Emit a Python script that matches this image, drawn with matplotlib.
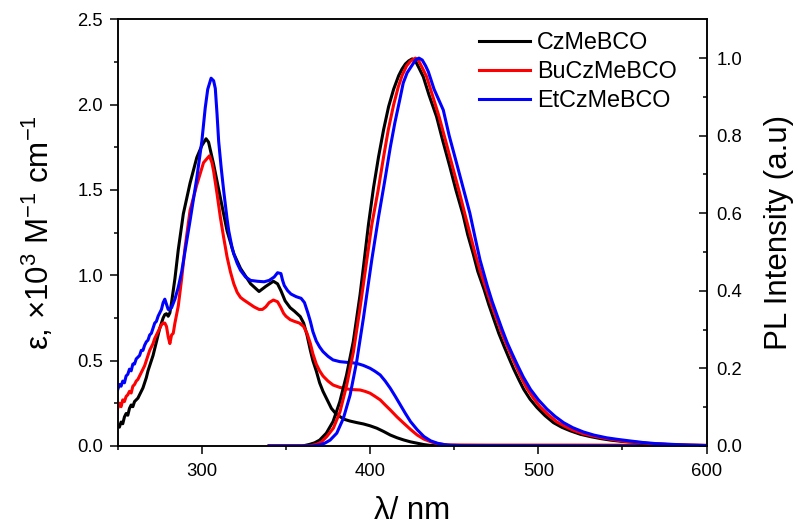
import matplotlib.pyplot as plt
from matplotlib.lines import Line2D

plt.rcParams['font.family'] = ['Liberation Sans', 'DejaVu Sans']
plt.rcParams['mathtext.fontset'] = 'custom'
plt.rcParams['mathtext.rm'] = 'Liberation Sans'
plt.rcParams['mathtext.it'] = 'Liberation Sans:italic'
plt.rcParams['xtick.major.pad'] = 7
plt.rcParams['ytick.major.pad'] = 5

names = ['CzMeBCO', 'BuCzMeBCO', 'EtCzMeBCO']
colors = ['black', 'red', 'blue']

x_ticks = [300, 400, 500, 600]
x_labels = ['300', '400', '500', '600']
abs_ticks = [0, 0.5, 1.0, 1.5, 2.0, 2.5]
abs_labels = ['0.0', '0.5', '1.0', '1.5', '2.0', '2.5']
pl_ticks = [0, 0.2, 0.4, 0.6, 0.8, 1.0]
pl_labels = ['0.0', '0.2', '0.4', '0.6', '0.8', '1.0']

# absorption (left axis, x10^3 M^-1 cm^-1)
abs_wl_cz = [250, 251, 252, 253, 254, 255, 256, 257, 258, 259, 260, 261, 262, 263, 264,
             265, 266, 267, 268, 269, 270, 271, 272, 273, 274, 275, 276, 277, 278, 279,
             280, 281, 282, 284, 286, 289, 293, 297, 300, 302.5, 304, 307, 311, 315, 319,
             323, 329, 334, 338, 342.5, 345, 347, 349.5, 352.5, 355, 358.5, 360.5, 362.5,
             364.5, 366, 368, 370, 372, 375, 377, 380, 382, 385, 388, 392, 396, 400, 404,
             408, 412, 416, 420, 424, 428, 432, 436, 445, 600]
abs_cz = [0.12, 0.11, 0.14, 0.13, 0.17, 0.19, 0.18, 0.22, 0.24, 0.23, 0.26, 0.27, 0.28,
          0.30, 0.32, 0.34, 0.37, 0.40, 0.44, 0.47, 0.50, 0.53, 0.57, 0.61, 0.65, 0.69,
          0.72, 0.75, 0.77, 0.775, 0.76, 0.78, 0.84, 0.98, 1.15, 1.36, 1.54, 1.69, 1.76,
          1.80, 1.78, 1.65, 1.455, 1.26, 1.126, 1.04, 0.95, 0.905, 0.935, 0.965, 0.95,
          0.91, 0.85, 0.81, 0.79, 0.758, 0.72, 0.65, 0.56, 0.50, 0.44, 0.37, 0.32, 0.26,
          0.22, 0.185, 0.172, 0.155, 0.146, 0.137, 0.129, 0.118, 0.104, 0.085, 0.064,
          0.048, 0.035, 0.024, 0.016, 0.008, 0.003, 0.0, 0.0]

abs_wl_bu = [250, 251, 252, 253, 254, 255, 256, 257, 258, 259, 260, 261, 262, 263, 264,
             265, 266, 267, 268, 269, 270, 271, 272, 273, 274, 275, 276, 277, 278, 279,
             280, 281, 282, 283, 284, 286, 288, 290, 293, 297, 301, 304.5, 306, 307, 309,
             311, 313, 315, 317, 319, 321, 323, 325, 328, 331, 334, 336, 338, 340, 342.5,
             345, 347, 348.6, 350, 352.5, 355, 358, 360.5, 362.5, 364.5, 366, 368, 370,
             372, 375, 378, 382, 386, 390, 394, 397, 400, 403, 406, 409, 412, 416, 420,
             424, 428, 432, 437, 441, 446, 470, 520, 600]
abs_bu = [0.22, 0.25, 0.23, 0.27, 0.26, 0.29, 0.30, 0.32, 0.31, 0.35, 0.36, 0.38, 0.39,
          0.41, 0.43, 0.45, 0.47, 0.50, 0.53, 0.56, 0.58, 0.60, 0.63, 0.65, 0.67, 0.69,
          0.71, 0.72, 0.72, 0.70, 0.64, 0.60, 0.65, 0.66, 0.72, 0.82, 0.98, 1.16, 1.38,
          1.53, 1.66, 1.70, 1.66, 1.61, 1.48, 1.34, 1.22, 1.107, 1.02, 0.95, 0.90, 0.87,
          0.855, 0.835, 0.815, 0.80, 0.80, 0.815, 0.84, 0.855, 0.845, 0.81, 0.777, 0.76,
          0.74, 0.73, 0.72, 0.70, 0.66, 0.60, 0.54, 0.48, 0.44, 0.41, 0.38, 0.357, 0.343,
          0.334, 0.33, 0.328, 0.32, 0.309, 0.29, 0.27, 0.24, 0.211, 0.17, 0.133, 0.097,
          0.064, 0.04, 0.021, 0.012, 0.006, 0.005, 0.005, 0.004]

abs_wl_et = [250, 251, 252, 253, 254, 255, 256, 257, 258, 259, 260, 261, 262, 263, 264,
             265, 266, 267, 268, 269, 270, 271, 272, 273, 274, 275, 276, 277, 278, 279,
             280, 281, 282, 284, 286, 288, 290, 293, 297, 300, 302, 303.5, 305.5, 307, 308,
             309, 310, 311.5, 313, 315, 316, 318, 319, 321, 323, 326, 329, 333, 337, 340,
             343, 345, 347, 348, 349, 351, 353, 356, 359, 361, 363, 364.5, 366, 368, 370,
             372, 375, 378, 382, 386, 389, 392, 396, 400, 403, 406, 409, 412, 415, 418,
             421, 424, 428, 432, 436, 440, 444, 448, 455, 600]
abs_et = [0.33, 0.36, 0.35, 0.38, 0.37, 0.41, 0.42, 0.45, 0.44, 0.48, 0.48, 0.51, 0.52,
          0.53, 0.56, 0.56, 0.59, 0.61, 0.62, 0.65, 0.66, 0.69, 0.72, 0.73, 0.76, 0.78,
          0.80, 0.84, 0.86, 0.83, 0.80, 0.80, 0.81, 0.86, 0.93, 1.02, 1.14, 1.32, 1.57,
          1.785, 1.98, 2.09, 2.155, 2.14, 2.095, 1.95, 1.785, 1.63, 1.494, 1.33, 1.26,
          1.16, 1.126, 1.07, 1.029, 0.99, 0.97, 0.965, 0.962, 0.97, 0.99, 1.015, 1.01,
          0.97, 0.94, 0.91, 0.89, 0.875, 0.865, 0.84, 0.78, 0.73, 0.67, 0.615, 0.58,
          0.553, 0.525, 0.504, 0.494, 0.49, 0.488, 0.484, 0.472, 0.455, 0.437, 0.416,
          0.38, 0.338, 0.29, 0.24, 0.19, 0.143, 0.095, 0.055, 0.03, 0.016, 0.008, 0.004,
          0.002, 0.0]

# photoluminescence (right axis, normalised)
pl_wl_cz = [340, 360, 364, 367, 370, 374, 378, 382, 386, 390, 394, 396, 399, 402, 405,
            408, 411, 414, 417, 419, 421, 423, 425, 427, 429, 431.6, 435, 439.5, 443,
            447.4, 451, 455.3, 458, 461.3, 464, 467.7, 470.5, 473.6, 476.5, 479.5, 482.5,
            485.4, 488.5, 491.3, 495, 499.2, 504, 509, 514, 519, 525, 531, 537, 543, 549,
            555, 565, 575, 585, 600]
pl_cz = [0.0, 0.0, 0.004, 0.008, 0.015, 0.033, 0.063, 0.114, 0.183, 0.269, 0.389, 0.46,
         0.57, 0.665, 0.745, 0.815, 0.875, 0.92, 0.955, 0.972, 0.985, 0.993, 0.998,
         0.992, 0.975, 0.952, 0.905, 0.849, 0.79, 0.72, 0.66, 0.595, 0.545, 0.495, 0.45,
         0.404, 0.365, 0.326, 0.29, 0.258, 0.227, 0.198, 0.17, 0.146, 0.121, 0.099,
         0.078, 0.06, 0.048, 0.039, 0.03, 0.024, 0.019, 0.015, 0.012, 0.01, 0.006, 0.004,
         0.002, 0.001]

pl_wl_bu = [340, 364, 368, 371, 374.2, 378.2, 382.1, 386.1, 390.1, 394, 398.4, 401,
            404.8, 408, 410.8, 414, 416.7, 419, 421.7, 424, 427, 429, 431, 433.6, 437,
            441, 445, 449, 453, 456.5, 459.5, 462.5, 465.5, 469, 472, 475, 478, 481, 484,
            487, 490, 493, 497, 501, 506, 511, 516, 521, 527, 533, 539, 545, 551, 557,
            567, 577, 587, 600]
pl_bu = [0.0, 0.0, 0.004, 0.01, 0.024, 0.046, 0.088, 0.157, 0.243, 0.355, 0.49, 0.57,
         0.66, 0.745, 0.815, 0.88, 0.925, 0.955, 0.98, 0.992, 1.0, 0.992, 0.975, 0.952,
         0.905, 0.849, 0.785, 0.72, 0.655, 0.595, 0.545, 0.495, 0.45, 0.404, 0.365,
         0.33, 0.294, 0.262, 0.232, 0.203, 0.175, 0.15, 0.124, 0.101, 0.08, 0.062, 0.05,
         0.04, 0.031, 0.025, 0.02, 0.016, 0.012, 0.01, 0.006, 0.004, 0.002, 0.001]

pl_wl_et = [340, 366, 370.2, 373, 376.2, 380.2, 384.1, 388.1, 392, 396, 401, 405, 408.8,
            412, 414.7, 417.5, 419.7, 422, 424.7, 427, 429, 431, 433, 434.6, 438, 443.5,
            447, 451.4, 455.5, 459.3, 462.5, 465.3, 469.7, 472.5, 475.6, 478.5, 481.5,
            484.5, 487.4, 491, 495.3, 500, 505.1, 510, 515, 520.5, 526.8, 533, 540.6, 547,
            554.3, 562, 570, 580, 590, 600]
pl_et = [0.0, 0.0, 0.003, 0.007, 0.015, 0.033, 0.071, 0.131, 0.217, 0.329, 0.48, 0.59,
         0.686, 0.77, 0.833, 0.89, 0.936, 0.962, 0.98, 0.995, 1.0, 0.995, 0.98, 0.965,
         0.92, 0.866, 0.8, 0.729, 0.662, 0.6, 0.535, 0.48, 0.412, 0.373, 0.335, 0.3,
         0.266, 0.237, 0.21, 0.178, 0.146, 0.119, 0.095, 0.076, 0.06, 0.047, 0.036,
         0.028, 0.021, 0.017, 0.013, 0.009, 0.006, 0.004, 0.002, 0.001]

fig = plt.figure(figsize=(7.98, 5.29), dpi=100)
ax = fig.add_axes([0.1475, 0.157, 0.738, 0.8065])
ax2 = ax.twinx()

lw = 2.2
for wl, val, c in zip([abs_wl_cz, abs_wl_bu, abs_wl_et], [abs_cz, abs_bu, abs_et], colors):
    ax.plot(wl, val, color=c, lw=lw)
for wl, val, c in zip([pl_wl_cz, pl_wl_bu, pl_wl_et], [pl_cz, pl_bu, pl_et], colors):
    ax2.plot(wl, val, color=c, lw=lw)

ax.set_xlim(250, 600)
ax.set_ylim(0, 2.5)
ax2.set_ylim(0, 1.1)

ax.set_xticks(x_ticks)
ax.set_xticklabels(x_labels, fontsize=13.3)
ax.set_xticks([250, 350, 450, 550], minor=True)
ax.set_yticks(abs_ticks)
ax.set_yticklabels(abs_labels, fontsize=13.3)
ax.set_yticks([0.25, 0.75, 1.25, 1.75, 2.25], minor=True)
ax2.set_yticks(pl_ticks)
ax2.set_yticklabels(pl_labels, fontsize=13.3)
ax2.set_yticks([0.1, 0.3, 0.5, 0.7, 0.9], minor=True)

ax.tick_params(axis='both', which='major', direction='out', length=5.5, width=1.1)
ax.tick_params(axis='both', which='minor', direction='out', length=3, width=1.1)
ax2.tick_params(axis='y', which='major', direction='in', length=5.5, width=1.1, pad=7)
ax2.tick_params(axis='y', which='minor', direction='in', length=3, width=1.1)

for a in (ax, ax2):
    for s in a.spines.values():
        s.set_linewidth(1.1)

ax.set_xlabel('λ/ nm', fontsize=22.5, labelpad=11)
ax.set_ylabel(r'ε, ×10$^{3}$ M$^{-1}$ cm$^{-1}$', fontsize=22.5, labelpad=15)
ax2.set_ylabel('PL Intensity (a.u)', fontsize=22.5, labelpad=16)

handles = [Line2D([], [], color=c, lw=lw) for c in colors]
ax2.legend(handles, names, loc='upper left', bbox_to_anchor=(0.585, 1.01),
           frameon=False, fontsize=16.8, handlelength=2.2, handletextpad=0.3,
           labelspacing=0.25, borderaxespad=0.3)

fig.savefig('out.png', dpi=100)
